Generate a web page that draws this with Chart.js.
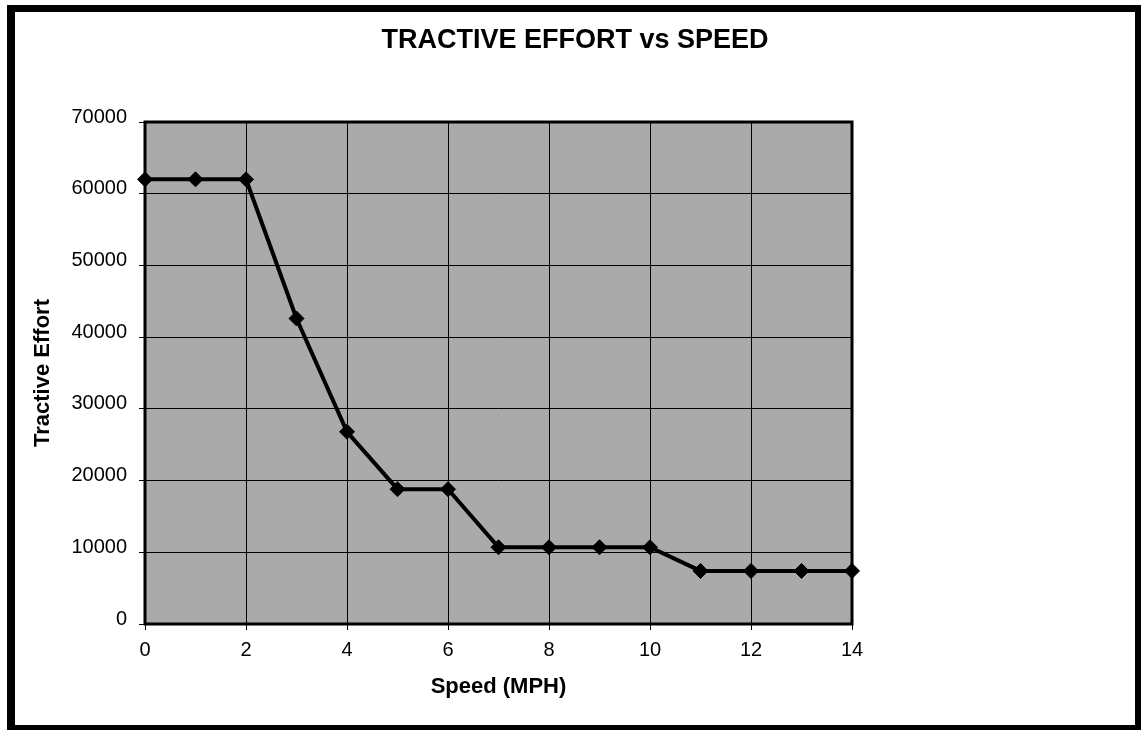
<!DOCTYPE html>
<html>
<head>
<meta charset="utf-8">
<script src="https://cdn.jsdelivr.net/npm/chart.js@4/dist/chart.umd.min.js"></script>
<style>
  body { margin: 0; background: #fff; }
  .frame {
    position: absolute; left: 7px; top: 5px;
    border-style: solid; border-color: #000;
    border-width: 7px 6px 5px 8px;
    width: 1120px; height: 713px;
  }
  canvas { display: block; }
</style>
</head>
<body>
<div class="frame"><canvas id="tractiveChart" width="1120" height="713"></canvas></div>
<script>
// speed in MPH, tractive effort
const speeds = [0, 1, 2, 3, 4, 5, 6, 7, 8, 9, 10, 11, 12, 13, 14];
const effort = [62000, 62000, 62000, 42600, 26800, 18800, 18800, 10700, 10700, 10700, 10700, 7400, 7400, 7400, 7400];

const FONT = "'Liberation Sans', Arial, sans-serif";

// grey plot background and the heavy box round the plot
const plotFrame = {
    id: 'plotFrame',
    beforeDraw(chart) {
        const { ctx, chartArea: a } = chart;
        ctx.save();
        ctx.fillStyle = '#aaaaaa';
        ctx.fillRect(a.left, a.top, a.right - a.left, a.bottom - a.top);
        ctx.restore();
    },
    beforeDatasetsDraw(chart) {
        const { ctx, chartArea: a } = chart;
        ctx.save();
        ctx.strokeStyle = '#000';
        ctx.lineWidth = 3;
        ctx.strokeRect(a.left, a.top, a.right - a.left, a.bottom - a.top);
        ctx.restore();
    }
};

new Chart(document.getElementById('tractiveChart'), {
    type: 'line',
    data: {
        datasets: [{
            data: speeds.map((s, i) => ({ x: s, y: effort[i] })),
            borderColor: '#000',
            borderWidth: 4,
            backgroundColor: '#000',
            pointStyle: 'rectRot',
            pointRadius: 7.5,
            pointBorderWidth: 1,
            pointBorderColor: '#000',
            pointBackgroundColor: '#000',
            tension: 0,
            clip: false
        }]
    },
    options: {
        responsive: false,
        animation: false,
        layout: { padding: 0 },
        plugins: {
            legend: { display: false },
            tooltip: { enabled: false },
            title: {
                display: true,
                text: 'TRACTIVE EFFORT vs SPEED',
                color: '#000',
                font: { family: FONT, size: 27, weight: 'bold' },
                padding: { top: 12, bottom: 65.6 }
            }
        },
        scales: {
            x: {
                type: 'linear',
                min: 0,
                max: 14,
                afterFit(scale) { scale.height = 101; },
                ticks: {
                    stepSize: 2,
                    color: '#000',
                    padding: 8,
                    maxRotation: 0,
                    font: { family: FONT, size: 20 }
                },
                grid: { color: '#000', lineWidth: 1, tickLength: 6 },
                border: { display: false },
                title: {
                    display: true,
                    text: 'Speed (MPH)',
                    color: '#000',
                    font: { family: FONT, size: 22, weight: 'bold' },
                    padding: { top: 0, bottom: 25 }
                }
            },
            y: {
                min: 0,
                max: 70000,
                afterFit(scale) { scale.width = 130; },
                ticks: {
                    stepSize: 10000,
                    color: '#000',
                    padding: 12,
                    labelOffset: -5,
                    font: { family: FONT, size: 20 },
                    callback: v => String(v)
                },
                grid: { color: '#000', lineWidth: 1, tickLength: 6 },
                border: { display: false },
                title: {
                    display: true,
                    text: 'Tractive Effort',
                    color: '#000',
                    font: { family: FONT, size: 22, weight: 'bold' },
                    padding: { top: 15, bottom: 0 }
                }
            },
            // empty right-hand space so the title centres on the whole frame
            spacer: {
                type: 'linear',
                position: 'right',
                min: 0,
                max: 1,
                afterFit(scale) { scale.width = 283; },
                ticks: { display: false },
                grid: { display: false },
                border: { display: false }
            }
        }
    },
    plugins: [plotFrame]
});
</script>
</body>
</html>
